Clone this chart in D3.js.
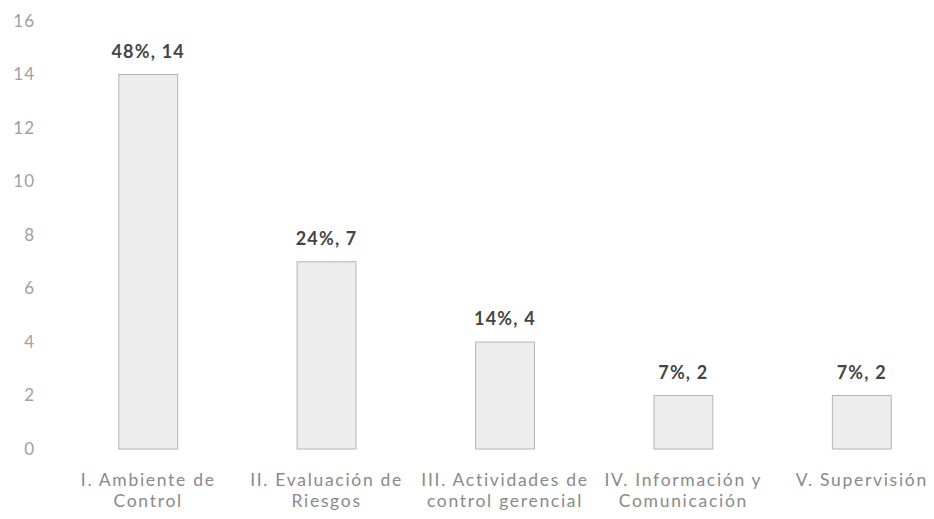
<!DOCTYPE html>
<html>
<head>
<meta charset="utf-8">
<script src="https://cdn.jsdelivr.net/npm/d3@7"></script>
<style>
  body { margin: 0; background: #fff; }
  svg { display: block; }
</style>
</head>
<body>
<div id="chart"></div>
<script>
// data
const categories = [
  ['I. Ambiente de', 'Control'],
  ['II. Evaluación de', 'Riesgos'],
  ['III. Actividades de', 'control gerencial'],
  ['IV. Información y', 'Comunicación'],
  ['V. Supervisión']
];
const counts = [14, 7, 4, 2, 2];
const percents = ['48%', '24%', '14%', '7%', '7%'];
const yTicks = [0, 2, 4, 6, 8, 10, 12, 14, 16];

const width = 934, height = 519;
const margin = {top: 21, right: -17, bottom: 70, left: 59};
const font = 'Lato, "Open Sans", sans-serif';

const svg = d3.select('#chart').append('svg')
  .attr('width', width)
  .attr('height', height);

const x = d3.scaleBand()
  .domain(d3.range(counts.length))
  .range([margin.left, width - margin.right])
  .paddingInner(0.67)
  .paddingOuter(0.335);

const y = d3.scaleLinear()
  .domain([0, 16])
  .range([height - margin.bottom, margin.top]);

// y axis labels only
const yAxis = svg.append('g')
  .attr('transform', 'translate(35,0)')
  .call(d3.axisLeft(y).tickValues(yTicks).tickSize(0).tickPadding(0));
yAxis.select('.domain').remove();
yAxis.selectAll('text')
  .attr('fill', '#a0a0a0')
  .style('font-family', font)
  .style('font-size', '17px')
  .style('letter-spacing', '1px');

// bars
svg.append('g').selectAll('rect')
  .data(counts)
  .join('rect')
    .attr('x', (d, i) => x(i))
    .attr('y', d => y(d))
    .attr('width', x.bandwidth())
    .attr('height', d => y(0) - y(d))
    .attr('fill', '#ededed')
    .attr('stroke', '#b4b4b4')
    .attr('stroke-width', 1);

// value labels
svg.append('g').selectAll('text')
  .data(counts)
  .join('text')
    .attr('x', (d, i) => x(i) + x.bandwidth() / 2)
    .attr('y', d => y(d) - 17)
    .attr('text-anchor', 'middle')
    .attr('fill', '#454545')
    .style('font-family', font)
    .style('font-weight', 'bold')
    .style('font-size', '18px')
    .style('letter-spacing', '1.2px')
    .text((d, i) => percents[i] + ', ' + d);

// category labels
const catG = svg.append('g').selectAll('text')
  .data(categories)
  .join('text')
    .attr('x', (d, i) => x(i) + x.bandwidth() / 2)
    .attr('y', y(0) + 37)
    .attr('text-anchor', 'middle')
    .attr('fill', '#8a8a8a')
    .style('font-family', font)
    .style('font-size', '17.5px')
    .style('letter-spacing', '1.7px');
catG.selectAll('tspan')
  .data(d => d)
  .join('tspan')
    .attr('x', function() { return d3.select(this.parentNode).attr('x'); })
    .attr('dy', (d, i) => i === 0 ? 0 : 21)
    .text(d => d);
</script>
</body>
</html>
